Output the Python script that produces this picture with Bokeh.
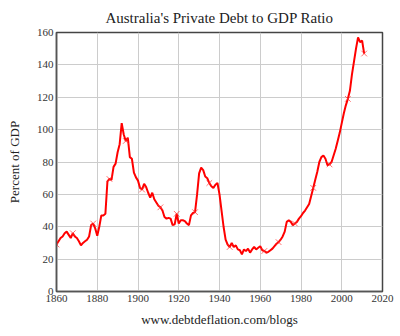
from bokeh.plotting import figure
from bokeh.models import FixedTicker, Title
from bokeh.embed import file_html
from bokeh.resources import INLINE
import numpy as np

years = list(range(1860, 2012))
ratio = [29, 31, 33, 34, 36, 37, 35, 33, 36, 34,
         33, 31, 28.5, 30, 31, 32, 34, 41, 42, 39,
         34.5, 40, 47, 47, 48, 68, 69.5, 69, 77, 79,
         86, 91, 104, 97, 93, 95, 83, 82, 73.5, 70.5,
         68.5, 64, 63, 66.5, 64.5, 61, 58, 61, 57, 55,
         53, 52, 50, 46, 45, 45.5, 45, 41, 41.5, 48,
         42, 44, 44, 43.5, 42, 41, 47, 48.5, 49, 60,
         73, 76.5, 75, 71, 70, 67, 65, 64, 66, 67,
         60, 50, 40, 32, 29, 27.5, 30, 27.5, 28.5, 26,
         25.5, 23, 26, 25, 26.5, 24, 26, 27.5, 26, 27,
         28, 25.5, 25, 24, 24.5, 25.5, 26.5, 28, 29.5, 30.5,
         32, 34, 37, 43, 44, 43, 41, 42, 43, 45,
         46.5, 48.5, 50, 52, 54, 59, 64, 69, 74, 80,
         83, 84, 82, 78, 78.5, 80, 84, 88, 93, 98,
         104, 110, 115, 119, 124, 134, 142, 150, 157, 154,
         155, 147]
marker_years = [1860, 1868, 1878, 1886, 1894, 1902, 1911, 1919, 1928, 1935,
                1945, 1962, 1969, 1977, 1986, 1994, 2003, 2011]
x_ticks = list(range(1860, 2021, 20))
y_ticks = list(range(0, 161, 20))

marker_vals = list(np.interp(marker_years, years, ratio))

p = figure(width=400, height=336, output_backend="svg", toolbar_location=None,
           x_range=(1860, 2020), y_range=(0, 160),
           min_border_left=56, min_border_right=18, min_border_top=31, min_border_bottom=45)

p.title.text = "Australia's Private Debt to GDP Ratio"
p.title.align = "center"
p.title.text_font = "Liberation Serif"
p.title.text_font_size = "15px"
p.title.text_font_style = "normal"
p.title.text_color = "#222222"
p.title.standoff = 14

p.add_layout(Title(text="www.debtdeflation.com/blogs", align="center",
                   text_font="Liberation Serif", text_font_size="13px",
                   text_font_style="normal", text_color="#222222"), "below")

p.line(years, ratio, line_color="#ff0000", line_width=2)
p.scatter(marker_years, marker_vals, marker="x", size=8, line_color="#ff3030",
          line_alpha=0.7, line_width=1)

p.xaxis.ticker = FixedTicker(ticks=x_ticks)
p.yaxis.ticker = FixedTicker(ticks=y_ticks)
for ax in (p.xaxis, p.yaxis):
    ax.major_label_text_font = "Liberation Serif"
    ax.major_label_text_font_size = "11px"
    ax.major_label_text_color = "#333333"
    ax.major_tick_out = 0
    ax.major_tick_in = 0
    ax.minor_tick_out = 0
    ax.minor_tick_in = 0
    ax.axis_line_color = "#555555"
    ax.axis_line_width = 1.5
p.yaxis.axis_label = "Percent of GDP"
p.yaxis.axis_label_text_font = "Liberation Serif"
p.yaxis.axis_label_text_font_size = "13px"
p.yaxis.axis_label_text_font_style = "normal"
p.yaxis.axis_label_text_color = "#222222"
p.yaxis.axis_label_standoff = 12
p.yaxis.major_label_standoff = 3
p.xaxis.major_label_standoff = 3

p.xgrid.grid_line_color = "#cccccc"
p.ygrid.grid_line_color = "#cccccc"
p.outline_line_color = "#444444"
p.outline_line_width = 1.5
p.background_fill_color = "white"
p.border_fill_color = "white"

open("out.html", "w").write(file_html(p, INLINE))
